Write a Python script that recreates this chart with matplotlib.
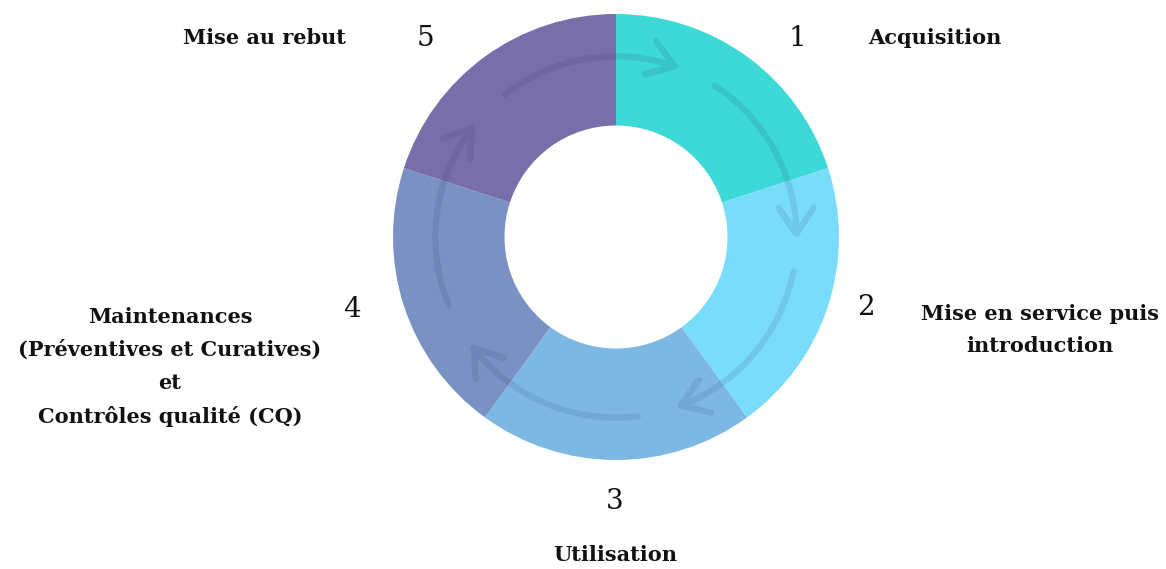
import numpy as np
import matplotlib.pyplot as plt

# Data
steps = ["1", "2", "3", "4", "5"]
stage_labels = [
    "Acquisition",
    "Mise en service puis\nintroduction",
    "Utilisation",
    "Maintenances\n(Préventives et Curatives)\net\nContrôles qualité (CQ)",
    "Mise au rebut",
]
shares = [1, 1, 1, 1, 1]
colors = ["#3dd9d6", "#7adcfb", "#7db8e4", "#7a91c3", "#786eaa"]

# layout (pixel positions in the 1166x569 image)
W, H = 1166, 569
cx, cy, R = 616, 237, 223
num_pos = [(797, 38), (866, 308), (615, 502), (352, 310), (425, 38)]
lab_pos = [(868, 38, "left"), (1040, 330, "center"), (615, 555, "center"),
           (170, 367, "center"), (264, 38, "center")]
# cycle arrows: (start angle, end angle) in degrees, clockwise
arrow_arcs = [(128, 71), (57, 1), (-11, -69), (-83, -142), (-158, -217)]


def px(x, y):
    return (x - cx) / R, (cy - y) / R


fig = plt.figure(figsize=(W / 100, H / 100), dpi=100)
ax = fig.add_axes([0, 0, 1, 1])

ax.pie(shares, colors=colors, startangle=90, counterclock=False, radius=1,
       wedgeprops=dict(width=0.5, linewidth=0))

# circular arrows inside the ring, each drawn as one path
r_arr = 0.81
for a0, a1 in arrow_arcs:
    t = np.radians(np.linspace(a0, a1, 80))
    xs = list(r_arr * np.cos(t))
    ys = list(r_arr * np.sin(t))
    te = np.radians(a1)
    tip = np.array([r_arr * np.cos(te), r_arr * np.sin(te)])
    back = -np.array([np.sin(te), -np.cos(te)])
    ends = []
    for s in (34, -34):
        a = np.radians(s)
        rot = np.array([[np.cos(a), -np.sin(a)], [np.sin(a), np.cos(a)]])
        ends.append(tip + 0.14 * rot @ back)
    xs += [ends[0][0], tip[0], ends[1][0]]
    ys += [ends[0][1], tip[1], ends[1][1]]
    ax.plot(xs, ys, color="#1a2a5a", alpha=0.11, lw=4.5,
            solid_capstyle="round", solid_joinstyle="round")

for s, (x, y) in zip(steps, num_pos):
    ax.text(*px(x, y), s, fontsize=20, family="DejaVu Serif",
            ha="center", va="center", color="#111111")

for lab, (x, y, ha) in zip(stage_labels, lab_pos):
    ax.text(*px(x, y), lab, fontsize=15, family="DejaVu Serif",
            fontweight="bold", ha=ha, va="center", color="#111111",
            linespacing=1.8)

ax.set_xlim(-cx / R, (W - cx) / R)
ax.set_ylim(-(H - cy) / R, cy / R)
ax.set_aspect("equal")
ax.axis("off")

fig.savefig("out.png", dpi=100)
